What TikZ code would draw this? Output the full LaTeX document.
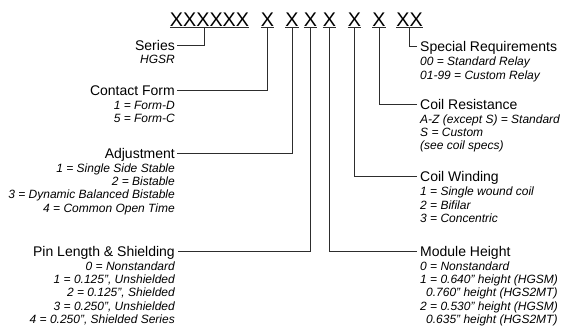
\documentclass[tikz,border=0pt]{standalone}
\usepackage{fontspec}
\setmainfont{Liberation Sans}
\usetikzlibrary{positioning}
\definecolor{leadgray}{RGB}{45,45,45}

\begin{document}
\begin{tikzpicture}[x=1pt, y=-1pt,
    digit/.style={
      inner xsep=0pt, inner ysep=1pt, anchor=base,
      font=\fontsize{19.75}{20}\selectfont
    },
    field/.style={
      inner sep=0pt, text height=10pt, text depth=0pt,
      font=\fontsize{14}{16}\selectfont
    },
    values/.style={
      inner sep=0pt, font=\fontsize{12}{13.4}\selectfont\itshape
    },
    lead/.style={draw=leadgray, line width=0.8pt}
  ]
  \useasboundingbox (0,0) rectangle (566,330);

  % --- Part number: groups of X, each underlined ---
  \node[digit] (g1) at (209.5,26) {XXXXXX};
  \node[digit] (g2) at (267.5,26) {X};
  \node[digit] (g3) at (292,26)   {X};
  \node[digit] (g4) at (310.5,26) {X};
  \node[digit] (g5) at (329.5,26) {X};
  \node[digit] (g6) at (354.5,26) {X};
  \node[digit] (g7) at (379,26)   {X};
  \node[digit] (g8) at (409.5,26) {XX};
  \foreach \g in {g1,g2,g3,g4,g5,g6,g7,g8}
    \draw[lead] (\g.south west) -- (\g.south east);
  % stems hang from the underlines
  \coordinate (t1) at ([xshift=-5pt]g1.south);
  \foreach \g [count=\i from 2] in {g2,g3,g4,g5,g6,g7,g8}
    \coordinate (t\i) at (\g.south);

  % --- Left column ---
  \node[field, anchor=base east] (series) at (175,50) {Series};
  \node[values, align=right, below left=5pt and 0pt of series.south east] {HGSR};

  \node[field, anchor=base east] (contact) at (175,95.7) {Contact Form};
  \node[values, align=right, below left=5pt and 0pt of contact.south east]
    {1 = Form-D\\5 = Form-C};

  \node[field, anchor=base east] (adjust) at (175,158) {Adjustment};
  \node[values, align=right, below left=5pt and 0pt of adjust.south east]
    {1 = Single Side Stable\\2 = Bistable\\3 = Dynamic Balanced Bistable\\4 = Common Open Time};

  \node[field, anchor=base east] (pin) at (175,256) {Pin Length \& Shielding};
  \node[values, align=right, below left=5pt and 0pt of pin.south east]
    {0 = Nonstandard\\1 = 0.125", Unshielded\\2 = 0.125", Shielded\\3 = 0.250", Unshielded\\4 = 0.250", Shielded Series};

  % --- Right column ---
  \node[field, anchor=base west] (special) at (420,51.7) {Special Requirements};
  \node[values, align=left, below right=5pt and 0pt of special.south west]
    {00 = Standard Relay\\01-99 = Custom Relay};

  \node[field, anchor=base west] (resist) at (420,109) {Coil Resistance};
  \node[values, align=left, below right=5pt and 0pt of resist.south west]
    {A-Z (except S) = Standard\\S = Custom\\(see coil specs)};

  \node[field, anchor=base west] (winding) at (420,181.7) {Coil Winding};
  \node[values, align=left, below right=5pt and 0pt of winding.south west]
    {1 = Single wound coil\\2 = Bifilar\\3 = Concentric};

  \node[field, anchor=base west] (module) at (420,256) {Module Height};
  \node[values, align=left, below right=5pt and 0pt of module.south west]
    {0 = Nonstandard\\1 = 0.640" height (HGSM)\\\hspace*{6pt}0.760" height (HGS2MT)\\2 = 0.530" height (HGSM)\\\hspace*{6pt}0.635" height (HGS2MT)};

  % --- Leaders: label to stem ---
  \draw[lead] ([xshift=2pt]series.east)  -| (t1);
  \draw[lead] ([xshift=2pt]contact.east) -| (t2);
  \draw[lead] ([xshift=2pt]adjust.east)  -| (t3);
  \draw[lead] ([xshift=3pt]pin.east)     -| (t4);
  \draw[lead] ([xshift=-3pt]module.west)  -| (t5);
  \draw[lead] ([xshift=-3pt]winding.west) -| (t6);
  \draw[lead] ([xshift=-3pt]resist.west)  -| (t7);
  \draw[lead] ([xshift=-3pt]special.west) -| (t8);
\end{tikzpicture}
\end{document}
